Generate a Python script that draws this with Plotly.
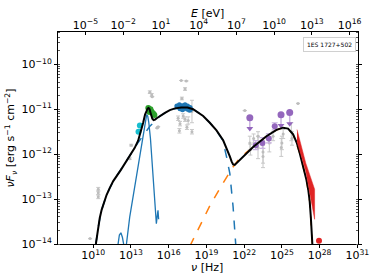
import numpy as np
import plotly.graph_objects as go

# ---------------- data (log10 nu [Hz], log10 nuFnu [erg s-1 cm-2]) ----------------
total_lognu = [10.21, 10.3, 10.4, 10.52, 10.67, 10.85, 11.06, 11.3, 11.59, 12.2, 12.92, 13.3,
               13.57, 13.8, 13.97, 14.12, 14.24, 14.33, 14.4, 14.48, 14.55, 14.62, 14.7, 14.8,
               14.92, 15.05, 15.3, 15.7, 16.09, 16.5, 17.0, 17.5, 17.94, 18.4, 18.74, 19.27,
               19.8, 20.33, 20.6, 20.86, 21.0, 21.12, 21.25, 21.4, 21.91, 22.71, 23.77,
               24.57, 25.09, 25.49, 25.89, 26.2, 26.42, 26.7, 26.95, 27.1, 27.21, 27.3, 27.35,
               27.43]
total_logf = [-14.0, -13.8, -13.62, -13.42, -13.24, -13.06, -12.91, -12.76, -12.6, -12.35,
              -12.03, -11.86, -11.7, -11.5, -11.3, -11.12, -11.02, -10.98, -10.97, -11.0,
              -11.07, -11.15, -11.21, -11.24, -11.23, -11.2, -11.15, -11.08, -11.02, -10.98,
              -10.96, -10.96, -11.0, -11.08, -11.15, -11.3, -11.47, -11.69, -11.86, -12.05,
              -12.16, -12.23, -12.24, -12.2, -12.05, -11.84, -11.6, -11.46, -11.41, -11.43,
              -11.56, -11.76, -11.98, -12.27, -12.57, -12.8, -13.05, -13.4, -13.72, -14.05]

sync_lognu = [10.21, 10.4, 10.67, 11.06, 11.59, 12.2, 12.92, 13.5, 14.0, 14.5, 15.0, 15.3,
              16.09, 17.0, 17.5, 17.94, 18.74, 19.27, 19.8, 20.3, 20.6, 20.86, 21.12, 21.34]
sync_logf = [-14.0, -13.62, -13.24, -12.91, -12.6, -12.35, -12.03, -11.77, -11.57, -11.38,
             -11.24, -11.15, -11.02, -10.96, -10.96, -11.0, -11.15, -11.3, -11.48, -11.69,
             -12.06, -12.43, -13.17, -14.05]

ic_lognu = [17.68, 18.73, 19.27, 20.2, 21.1, 21.5, 22.0, 22.71, 23.77, 24.57, 25.09, 25.49,
            25.89, 26.42, 26.95, 27.21, 27.35, 27.43]
ic_logf = [-14.05, -13.47, -13.15, -12.7, -12.29, -12.14, -12.0, -11.84, -11.6, -11.46,
           -11.41, -11.43, -11.56, -11.98, -12.57, -13.05, -13.72, -14.05]

host_lognu = [11.95, 12.08, 12.2, 12.32, 12.45, 12.62, 12.9, 13.2, 13.5, 13.8, 14.0, 14.15,
              14.25, 14.33, 14.42, 14.55, 14.7, 14.85, 14.95, 15.02, 15.08, 15.15, 15.2]
host_logf = [-14.05, -13.8, -13.75, -13.85, -14.05, -14.05, -13.4, -12.9, -12.4, -11.9,
             -11.5, -11.25, -11.12, -11.15, -11.3, -11.65, -12.25, -12.9, -13.25, -13.55,
             -13.4, -13.25, -13.45]

grey_lognu = [9.75, 10.4, 10.4, 10.4, 12.9, 13.02, 14.5, 14.65, 14.69, 15.08, 15.16,
              17.0, 17.4, 17.3, 17.05, 17.85, 16.75, 16.9, 17.15, 17.3, 17.55, 16.85, 17.85,
              17.45, 22.05, 22.45, 22.5, 22.75, 23.1, 23.1, 23.5, 23.5, 24.0, 24.3, 24.95,
              25.0, 25.1, 25.75, 25.8, 26.28]
grey_logf = [-13.88, -12.78, -12.86, -12.95, -12.1, -11.8, -10.62, -10.68, -10.72, -11.42,
             -11.39, -10.36, -10.37, -10.55, -10.76, -11.05, -11.2, -11.32, -11.15, -11.22,
             -11.25, -11.48, -11.5, -11.4, -11.03, -11.75, -11.9, -11.65, -11.85, -11.6,
             -11.95, -12.05, -11.75, -11.6, -11.85, -11.75, -11.55, -11.5, -11.65, -10.87]
grey_err = [0.0, 0.04, 0.04, 0.04, 0.02, 0.02, 0.03, 0.03, 0.0, 0.0, 0.0,
            0.0, 0.0, 0.03, 0.03, 0.25, 0.05, 0.05, 0.05, 0.05, 0.08, 0.05, 0.05,
            0.05, 0.0, 0.15, 0.12, 0.1, 0.25, 0.1, 0.25, 0.25, 0.2, 0.1, 0.2,
            0.15, 0.1, 0.2, 0.15, 0.0]

green_lognu = [14.38, 14.47, 14.55, 14.62, 14.7, 14.78, 14.86]
green_logf = [-10.97, -11.06, -11.0, -11.05, -11.08, -11.1, -11.13]

cyan_lognu = [13.6, 13.71]
cyan_logf = [-11.5, -11.36]

xray_lognu = [16.65, 16.75, 16.85, 16.95, 17.05, 17.12, 17.2, 17.28, 17.35, 17.42, 17.5,
              17.58, 17.66, 17.74, 16.9, 17.1, 17.3, 17.5, 17.7]
xray_logf = [-10.93, -10.95, -10.9, -10.93, -10.97, -10.92, -10.95, -10.98, -10.94, -10.97,
             -11.0, -10.97, -11.02, -11.0, -10.99, -11.01, -10.9, -10.93, -10.96]

fermi_lognu = [22.92, 23.45, 23.96, 24.43]
fermi_logf = [-11.8, -11.75, -11.65, -11.38]
fermi_err = [0.1, 0.12, 0.1, 0.08]

ul_lognu = [22.45, 24.93, 25.62]
ul_logf = [-11.19, -11.12, -11.07]
ul_tip = [-11.43, -11.36, -11.32]

bowtie_upper_lognu = [26.2, 26.9, 27.6]
bowtie_upper_logf = [-11.45, -12.2, -12.78]
bowtie_lower_lognu = [27.6, 26.9, 26.2]
bowtie_lower_logf = [-13.45, -12.38, -11.72]

tev_lognu = [27.95]
tev_logf = [-13.93]

nu_ticks = [10, 13, 16, 19, 22, 25, 28, 31]
e_ticks = [-5, -2, 1, 4, 7, 10, 13, 16]
y_ticks = [-14, -13, -12, -11, -10]

H_EV = 4.135667696e-15
X_RANGE = [7.2, 31.05]
Y_RANGE = [-14.0, -9.28]
FONT = "DejaVu Sans"


def p(v):
    return [10.0 ** float(a) for a in v]


def sup(e):
    return "10<sup>%s</sup>" % (str(e).replace("-", "\u2212"))


fig = go.Figure()

# orange IC (dashed)
fig.add_trace(go.Scatter(x=p(ic_lognu), y=p(ic_logf), mode="lines",
                         line=dict(color="#ff7f0e", width=1.5, dash="dash")))
# blue synchrotron (dashed)
fig.add_trace(go.Scatter(x=p(sync_lognu), y=p(sync_logf), mode="lines",
                         line=dict(color="#1f77b4", width=1.5, dash="dash")))
# host galaxy (solid blue)
fig.add_trace(go.Scatter(x=p(host_lognu), y=p(host_logf), mode="lines",
                         line=dict(color="#1f77b4", width=1.3)))

# grey archival data
ge_plus = [10.0 ** (f + e) - 10.0 ** f for f, e in zip(grey_logf, grey_err)]
ge_minus = [10.0 ** f - 10.0 ** (f - e) for f, e in zip(grey_logf, grey_err)]
fig.add_trace(go.Scatter(x=p(grey_lognu), y=p(grey_logf), mode="markers",
                         marker=dict(color="#bdbdbd", size=3, symbol="circle"),
                         error_y=dict(type="data", symmetric=False, array=ge_plus,
                                      arrayminus=ge_minus, color="#c8c8c8",
                                      thickness=1, width=2)))

# cyan and green optical/IR points
fig.add_trace(go.Scatter(x=p(cyan_lognu), y=p(cyan_logf), mode="markers",
                         marker=dict(color="#17becf", size=6)))
fig.add_trace(go.Scatter(x=p(green_lognu), y=p(green_logf), mode="markers",
                         marker=dict(color="#2ca02c", size=6)))

# X-ray (blue)
fig.add_trace(go.Scatter(x=p(xray_lognu), y=p(xray_logf), mode="markers",
                         marker=dict(color="#1f77b4", size=5)))

# Fermi points
fe_plus = [10.0 ** (f + e) - 10.0 ** f for f, e in zip(fermi_logf, fermi_err)]
fe_minus = [10.0 ** f - 10.0 ** (f - e) for f, e in zip(fermi_logf, fermi_err)]
fig.add_trace(go.Scatter(x=p(fermi_lognu), y=p(fermi_logf), mode="markers",
                         marker=dict(color="#9467bd", size=6),
                         error_y=dict(type="data", symmetric=False, array=fe_plus,
                                      arrayminus=fe_minus, color="#c9b3e0",
                                      thickness=1.2, width=3)))
# upper limits
for nu, f, t in zip(ul_lognu, ul_logf, ul_tip):
    fig.add_trace(go.Scatter(x=p([nu, nu]), y=p([f, t]), mode="lines",
                             line=dict(color="#c9b3e0", width=1.5)))
fig.add_trace(go.Scatter(x=p(ul_lognu), y=p(ul_tip), mode="markers",
                         marker=dict(color="#9467bd", size=6, symbol="triangle-down")))
fig.add_trace(go.Scatter(x=p(ul_lognu), y=p(ul_logf), mode="markers",
                         marker=dict(color="#9467bd", size=7)))

# total model (black)
fig.add_trace(go.Scatter(x=p(total_lognu), y=p(total_logf), mode="lines",
                         line=dict(color="black", width=2)))

# TeV bowtie (red)
fig.add_trace(go.Scatter(x=p(bowtie_upper_lognu + bowtie_lower_lognu),
                         y=p(bowtie_upper_logf + bowtie_lower_logf),
                         mode="lines", fill="toself", fillcolor="#e02424",
                         line=dict(color="#e02424", width=0.5)))
fig.add_trace(go.Scatter(x=p(tev_lognu), y=p(tev_logf), mode="markers",
                         marker=dict(color="#e02424", size=6)))

# invisible trace on the top (energy) axis
fig.add_trace(go.Scatter(x=[10.0 ** (X_RANGE[0] + np.log10(H_EV))], y=[1e-20],
                         xaxis="x2", mode="markers", marker=dict(opacity=0),
                         showlegend=False, hoverinfo="skip"))

axis_font = dict(family=FONT, size=11, color="black")

fig.update_layout(
    width=374, height=280,
    margin=dict(l=58, r=16, t=32, b=36, autoexpand=False),
    paper_bgcolor="white", plot_bgcolor="white",
    showlegend=False,
    font=dict(family=FONT, size=11, color="black"),
    xaxis=dict(type="log", range=X_RANGE, automargin=False,
               tickvals=p(nu_ticks), ticktext=[sup(v) for v in nu_ticks],
               ticks="outside", ticklen=3, tickwidth=1, tickcolor="black",
               ticklabelstandoff=-2,
               showline=True, linecolor="black", linewidth=1, mirror=False,
               showgrid=False, zeroline=False, tickfont=axis_font),
    xaxis2=dict(type="log", overlaying="x", side="top", automargin=False,
                range=[X_RANGE[0] + float(np.log10(H_EV)), X_RANGE[1] + float(np.log10(H_EV))],
                tickvals=p(e_ticks), ticktext=[sup(v) for v in e_ticks],
                ticks="inside", ticklen=3, tickwidth=1, tickcolor="black",
                ticklabelstandoff=-2,
                showline=True, linecolor="black", linewidth=1,
                showgrid=False, zeroline=False, tickfont=axis_font),
    yaxis=dict(type="log", range=Y_RANGE, automargin=False,
               tickvals=p(y_ticks), ticktext=[sup(v) for v in y_ticks],
               ticks="outside", ticklen=3, tickwidth=1, tickcolor="black",
               minor=dict(ticks="inside", ticklen=2, tickcolor="#555555", dtick="D1"),
               showline=True, linecolor="black", linewidth=1, mirror="ticks",
               showgrid=False, zeroline=False, tickfont=axis_font,
               title=dict(text="<i>νF<sub>ν</sub></i> [erg s<sup>−1</sup> cm<sup>−2</sup>]",
                          font=axis_font, standoff=4)),
    annotations=[
        dict(text="1ES 1727+502", xref="paper", yref="paper", x=0.993, y=0.976,
             xanchor="right", yanchor="top", showarrow=False,
             font=dict(family=FONT, size=6, color="black"),
             bgcolor="white", bordercolor="#d0d0d0", borderwidth=1, borderpad=3),
        dict(text="<i>ν</i> [Hz]", xref="paper", yref="paper", x=0.497, y=-0.11,
             xanchor="center", yanchor="middle", showarrow=False, font=axis_font),
        dict(text="<i>E</i> [eV]", xref="paper", yref="paper", x=0.497, y=1.087,
             xanchor="center", yanchor="middle", showarrow=False, font=axis_font),
    ],
)

fig.write_html("out.html", config={"displayModeBar": False},
               post_script="document.body.style.margin='0';")
